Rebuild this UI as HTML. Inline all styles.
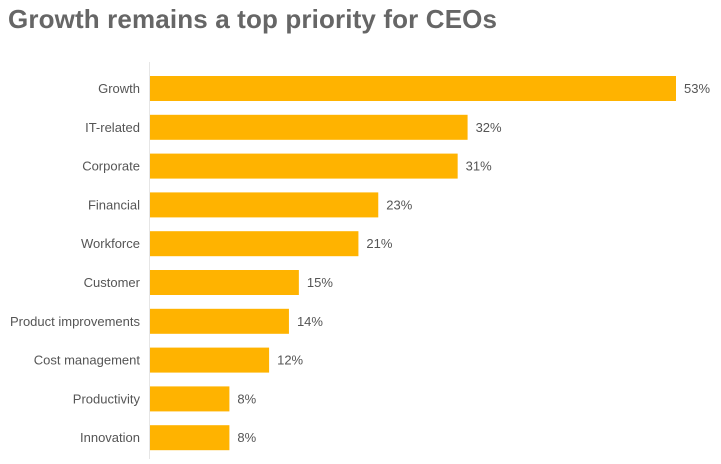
<!DOCTYPE html>
<html><head><meta charset="utf-8"><style>
body{margin:0;background:#fff;width:721px;height:459px;overflow:hidden;font-family:"Liberation Sans",sans-serif}
</style></head><body>
<svg width="721" height="459">
<text x="8" y="28" font-size="26" font-weight="bold" fill="#666" textLength="489" lengthAdjust="spacing">Growth remains a top priority for CEOs</text>
<line x1="149.5" y1="62" x2="149.5" y2="459" stroke="#e6e6e6"/>
<g id="bars"></g>
</svg>
<script>
const categories=["Growth","IT-related","Corporate","Financial","Workforce","Customer","Product improvements","Cost management","Productivity","Innovation"];
const values=[53,32,31,23,21,15,14,12,8,8];
const x0=149,pxPer=(676-150)/53,top0=76,step=38.8,bh=25;
const g=document.getElementById('bars');
const ns="http://www.w3.org/2000/svg";
categories.forEach((c,i)=>{
 const y=top0+i*step, w=values[i]*pxPer;
 const r=document.createElementNS(ns,'rect');
 r.setAttribute('x',x0+1);r.setAttribute('y',y);r.setAttribute('width',w);r.setAttribute('height',bh);r.setAttribute('fill','#FFB300');
 
 
 g.appendChild(r);
 const t=document.createElementNS(ns,'text');
 t.setAttribute('x',140);t.setAttribute('y',y+bh/2+4.5);t.setAttribute('text-anchor','end');t.setAttribute('font-size','13');t.setAttribute('fill','#555');
 t.textContent=c;
 
 
 g.appendChild(t);
 const v=document.createElementNS(ns,'text');
 v.setAttribute('x',x0+1+w+8);v.setAttribute('y',y+bh/2+4.5);v.setAttribute('font-size','13');v.setAttribute('fill','#555');
 v.textContent=values[i]+'%';
 
 
 g.appendChild(v);
});
</script>
</body></html>
